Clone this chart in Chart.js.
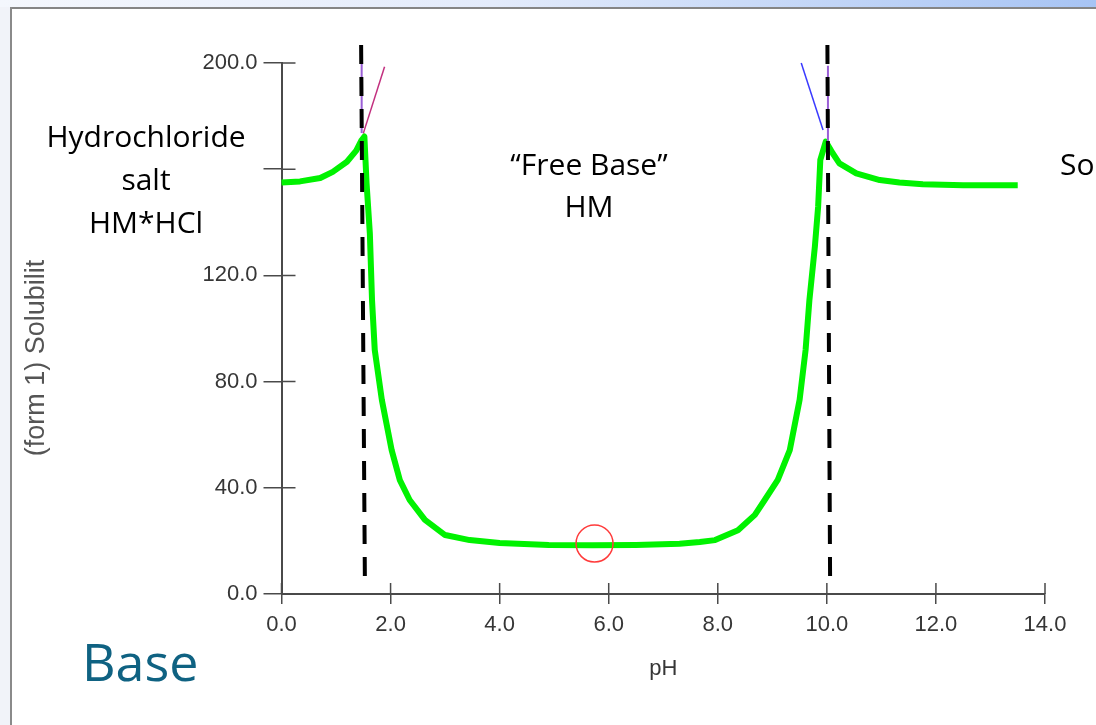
<!DOCTYPE html>
<html>
<head>
<meta charset="utf-8">
<script src="https://cdn.jsdelivr.net/npm/chart.js@4.4.1/dist/chart.umd.min.js"></script>
<style>
  html, body { margin: 0; padding: 0; background: #fff; overflow: hidden; }
  #page { position: relative; width: 1096px; height: 725px; overflow: hidden; background: #fff; }
  #topbar { position: absolute; left: 0; top: 0; width: 1096px; height: 7px;
    background: linear-gradient(to right, #f4f7fd 0%, #e3ebfb 45%, #a7c4f4 100%); }
  #topline { position: absolute; left: 10px; top: 7px; width: 1086px; height: 2px; background: #858585; }
  #leftpane { position: absolute; left: 0; top: 7px; width: 10px; height: 718px; background: #f1f3f9; }
  #leftline { position: absolute; left: 10px; top: 7px; width: 2px; height: 718px; background: #8a8a8a; }
  #chart { position: absolute; left: 0; top: 0; }
  .note { position: absolute; font-family: "Open Sans", Lato, sans-serif; color: #000; white-space: nowrap; }
  #salt { left: 16px; top: 114px; width: 260px; text-align: center; font-size: 30px; line-height: 43px; }
  #free { left: 459px; top: 143px; width: 260px; text-align: center; font-size: 30px; line-height: 42px; }
  #so { left: 1060px; top: 143px; font-size: 30px; line-height: 42px; }
  #base { left: 82px; top: 635px; font-size: 52px; line-height: 52px; color: #0f6282; }
</style>
</head>
<body>
<div id="page">
  <div id="topbar"></div>
  <div id="leftpane"></div>
  <div id="topline"></div>
  <div id="leftline"></div>
  <canvas id="chart" width="1096" height="725"></canvas>
  <div class="note" id="salt">Hydrochloride<br>salt<br>HM*HCl</div>
  <div class="note" id="free">“Free Base”<br>HM</div>
  <div class="note" id="so">So</div>
  <div class="note" id="base">Base</div>
</div>
<script>
  // pH-solubility profile (green)
  const phGreen = [0, 0.34, 0.71, 0.94, 1.2, 1.37, 1.47, 1.52, 1.56, 1.62, 1.66, 1.71, 1.84, 2.02, 2.17, 2.35,
    2.63, 3.0, 3.45, 4.0, 4.9, 5.7, 6.5, 7.3, 7.67, 7.95, 8.37, 8.68, 8.86, 9.1, 9.32, 9.5, 9.61, 9.68,
    9.78, 9.84, 9.88, 9.98, 10.11, 10.23, 10.54, 10.97, 11.33, 11.76, 12.5, 13.5];
  const solGreen = [155.0, 155.4, 156.7, 159.0, 162.8, 167.0, 171.0, 172.3, 154.7, 135.8, 110.7, 91.9, 73.1, 54.2, 42.9, 35.4,
    27.9, 22.2, 20.3, 19.2, 18.5, 18.4, 18.5, 18.9, 19.6, 20.3, 24.0, 29.8, 35.4, 43.0, 54.2, 73.1, 91.9, 110.7,
    130.8, 145.9, 163.5, 170.4, 165.9, 162.2, 158.4, 155.9, 155.0, 154.3, 154.0, 154.0];

  // salt solubility branch (magenta) and base branch (blue)
  const phSaltLine = [1.50, 1.89];
  const solSaltLine = [173.5, 198.6];
  const phBaseLine = [9.53, 9.93];
  const solBaseLine = [200.0, 174.8];

  // purple vertical segments at pHmax
  const phPurpleA = [1.47, 1.47];
  const solPurpleA = [200.0, 173.6];
  const phPurpleB = [10.02, 10.02];
  const solPurpleB = [199.0, 168.5];

  // dashed pHmax markers
  const phDashA = [1.46, 1.53];
  const phDashB = [10.01, 10.06];
  const solDash = [206.8, 2.3];

  // circled point
  const phMark = [5.74];
  const solMark = [19.0];

  const xTickValues = [0, 2, 4, 6, 8, 10, 12, 14];
  const xTickLabels = ["0.0", "2.0", "4.0", "6.0", "8.0", "10.0", "12.0", "14.0"];
  const yTickValues = [0, 40, 80, 120, 160, 200];
  const yTickLabels = ["0.0", "40.0", "80.0", "120.0", "", "200.0"];

  const AXIS = "#4a4a4a";
  const pts = (xs, ys) => xs.map((x, i) => ({ x: x, y: ys[i] }));

  Chart.defaults.font.family = "'Liberation Sans', Arial, sans-serif";

  // ticks on the inner side of the axes + rotated y title
  const axisExtras = {
    id: "axisExtras",
    beforeDatasetsDraw(chart) {
      const { ctx, chartArea: a, scales: { x, y } } = chart;
      ctx.save();
      ctx.strokeStyle = AXIS;
      ctx.lineWidth = 1.5;
      ctx.beginPath();
      y.ticks.forEach((t) => {
        const py = y.getPixelForValue(t.value);
        ctx.moveTo(a.left, py);
        ctx.lineTo(a.left + 14, py);
      });
      x.ticks.forEach((t) => {
        const px = x.getPixelForValue(t.value);
        ctx.moveTo(px, a.bottom);
        ctx.lineTo(px, a.bottom - 11);
      });
      ctx.stroke();

      ctx.translate(37, 358);
      ctx.rotate(-Math.PI / 2);
      ctx.fillStyle = "#555";
      ctx.font = "27px 'Liberation Sans', Arial, sans-serif";
      ctx.textAlign = "center";
      ctx.textBaseline = "middle";
      ctx.fillText("(form 1) Solubilit", 0, 0);
      ctx.restore();
    }
  };

  const lineDs = (data, color, width, extra) => Object.assign({
    data: data,
    borderColor: color,
    borderWidth: width,
    pointRadius: 0,
    tension: 0,
    fill: false
  }, extra || {});

  new Chart(document.getElementById("chart"), {
    type: "line",
    data: {
      datasets: [
        {
          data: pts(phMark, solMark),
          showLine: false,
          pointRadius: 18.5,
          pointBorderWidth: 1.5,
          pointBorderColor: "#ff3b3b",
          pointBackgroundColor: "rgba(0,0,0,0)"
        },
        lineDs(pts(phDashA, solDash), "#000", 4, { borderDash: [19, 13], clip: false }),
        lineDs(pts(phDashB, solDash), "#000", 4, { borderDash: [19, 13], clip: false }),
        lineDs(pts(phPurpleA, solPurpleA), "#9b5fd6", 2, { clip: false }),
        lineDs(pts(phPurpleB, solPurpleB), "#9b5fd6", 2, { clip: false }),
        lineDs(pts(phSaltLine, solSaltLine), "#c2307f", 1.5, { clip: false }),
        lineDs(pts(phBaseLine, solBaseLine), "#3a3aff", 1.5, { clip: false }),
        lineDs(pts(phGreen, solGreen), "#00f200", 6, { borderJoinStyle: "round", clip: false })
      ]
    },
    options: {
      responsive: false,
      animation: false,
      events: [],
      layout: { padding: { left: 0, top: 63, right: 51, bottom: 0 } },
      plugins: { legend: { display: false }, tooltip: { enabled: false } },
      scales: {
        x: {
          type: "linear",
          min: 0,
          max: 14,
          afterFit: (s) => { s.height = 131; },
          afterBuildTicks: (s) => { s.ticks = xTickValues.map((v) => ({ value: v })); },
          ticks: {
            autoSkip: false,
            maxRotation: 0,
            padding: 8,
            color: "#363636",
            font: { size: 22 },
            callback: (v, i) => xTickLabels[i]
          },
          grid: { drawOnChartArea: false, drawTicks: true, tickLength: 10, color: AXIS, lineWidth: 1.5 },
          border: { display: true, color: AXIS, width: 2 },
          title: { display: true, text: "pH", color: "#363636", font: { size: 22 }, padding: { top: 0, bottom: 43 } }
        },
        y: {
          min: 0,
          max: 200,
          afterFit: (s) => { s.width = 281.5; },
          afterBuildTicks: (s) => { s.ticks = yTickValues.map((v) => ({ value: v })); },
          ticks: {
            autoSkip: false,
            padding: 6,
            color: "#363636",
            font: { size: 22 },
            callback: (v, i) => yTickLabels[i]
          },
          grid: { drawOnChartArea: false, drawTicks: true, tickLength: 18, color: AXIS, lineWidth: 1.5 },
          border: { display: true, color: AXIS, width: 2 }
        }
      }
    },
    plugins: [axisExtras]
  });
</script>
</body>
</html>
